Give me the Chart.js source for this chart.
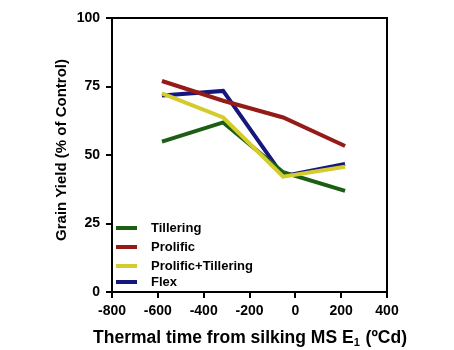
<!DOCTYPE html>
<html><head><meta charset="utf-8">
<script src="https://cdn.jsdelivr.net/npm/chart.js@4"></script>
<style>html,body{margin:0;padding:0;background:#fff}#wrap{width:454px;height:350px}</style>
</head><body><div id="wrap"><canvas id="c" width="454" height="350"></canvas></div>
<script>
const seriesNames = ["Tillering", "Prolific", "Prolific+Tillering", "Flex"];
const thermalTime = [-582, -315, -53, 217];
const tillering = [54.9, 61.9, 43.7, 36.9];
const prolific = [77.0, 69.8, 63.7, 53.3];
const prolificTillering = [72.5, 63.7, 42.1, 45.7];
const flex = [71.7, 73.4, 42.3, 46.7];
const xTicks = [-800, -600, -400, -200, 0, 200, 400];
const yTicks = [0, 25, 50, 75, 100];
const colors = ["#1b5e14", "#951b19", "#d4cc2c", "#16177c"];
const values = [tillering, prolific, prolificTillering, flex];
const drawOrder = [2, 1, 0, 3];
const FONT = "'Liberation Sans', Arial, sans-serif";

const datasets = values.map((v, i) => ({
  label: seriesNames[i],
  data: v.map((y, j) => ({x: thermalTime[j], y})),
  borderColor: colors[i],
  backgroundColor: colors[i],
  borderWidth: 4,
  pointRadius: 0,
  tension: 0,
  order: drawOrder[i]
}));

const decor = {
  id: 'decor',
  afterDraw(chart) {
    const ctx = chart.ctx, a = chart.chartArea;
    ctx.save();
    ctx.strokeStyle = '#000'; ctx.lineWidth = 2;
    ctx.strokeRect(a.left, a.top, a.right - a.left, a.bottom - a.top);
    // legend
    ctx.font = "bold 13px " + FONT;
    ctx.textBaseline = 'middle'; ctx.textAlign = 'left';
    const rowsY = [228, 247, 266, 282];
    seriesNames.forEach((n, i) => {
      ctx.strokeStyle = colors[i]; ctx.lineWidth = 4;
      ctx.beginPath(); ctx.moveTo(116, rowsY[i]); ctx.lineTo(137, rowsY[i]); ctx.stroke();
      ctx.fillStyle = '#000'; ctx.fillText(n, 151, rowsY[i]);
    });
    // y title
    ctx.save();
    ctx.translate(62, 150); ctx.rotate(-Math.PI / 2);
    ctx.font = "bold 15px " + FONT; ctx.textAlign = 'center';
    ctx.fillText("Grain Yield (% of Control)", 0, 0);
    ctx.restore();
    // x title with subscript
    const big = "bold 17.5px " + FONT, small = "bold 11px " + FONT;
    const p1 = "Thermal time from silking MS E", p2 = "1", p3 = " (ºCd)";
    ctx.font = big; const w1 = ctx.measureText(p1).width, w3 = ctx.measureText(p3).width;
    ctx.font = small; const w2 = ctx.measureText(p2).width + 1;
    let x = 250 - (w1 + w2 + w3) / 2; const y = 338;
    ctx.textAlign = 'left';
    ctx.font = big; ctx.fillText(p1, x, y); x += w1;
    ctx.font = small; ctx.fillText(p2, x, y + 5); x += w2;
    ctx.font = big; ctx.fillText(p3, x, y);
    ctx.restore();
  }
};

new Chart(document.getElementById('c'), {
  type: 'line',
  data: {datasets},
  options: {
    responsive: false, animation: false,
    layout: {padding: {left: 0, right: 67, top: 18, bottom: 0}},
    plugins: {legend: {display: false}, tooltip: {enabled: false}},
    scales: {
      x: {
        type: 'linear', min: -800, max: 400,
        afterBuildTicks: s => { s.ticks = xTicks.map(v => ({value: v})); },
        afterFit: s => { s.height = 58; },
        grid: {drawOnChartArea: false, drawTicks: true, tickLength: 6, color: '#000', lineWidth: 2},
        border: {display: true, color: '#000', width: 2},
        ticks: {color: '#000', font: {family: FONT, size: 14, weight: 'bold'}, padding: 5, maxRotation: 0}
      },
      y: {
        type: 'linear', min: 0, max: 100,
        afterBuildTicks: s => { s.ticks = yTicks.map(v => ({value: v})); },
        afterFit: s => { s.width = 112; },
        grid: {drawOnChartArea: false, drawTicks: true, tickLength: 6, color: '#000', lineWidth: 2},
        border: {display: true, color: '#000', width: 2},
        ticks: {color: '#000', font: {family: FONT, size: 14, weight: 'bold'}, padding: 6}
      }
    }
  },
  plugins: [decor]
});
</script></body></html>
